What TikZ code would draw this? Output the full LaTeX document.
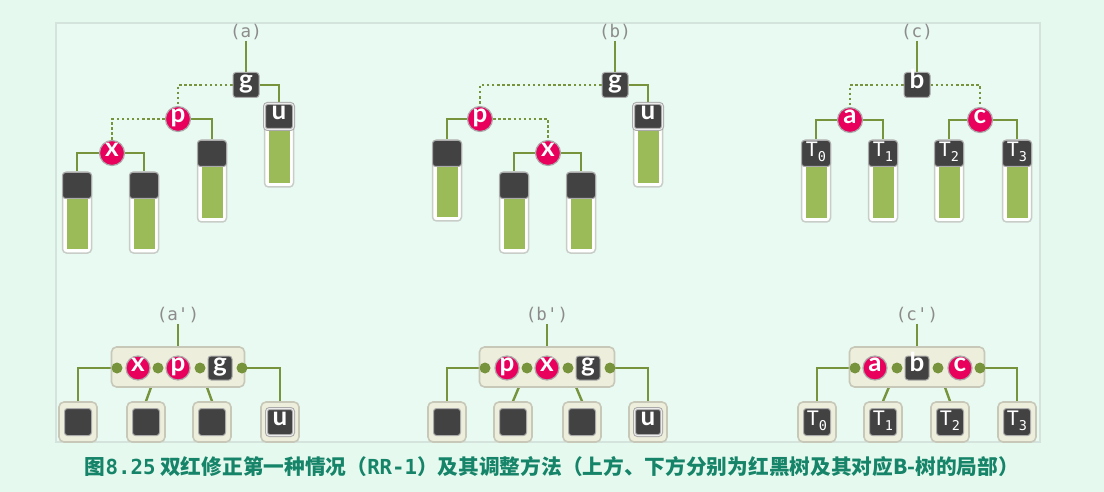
\documentclass[tikz,border=0pt]{standalone}
\usepackage{fontspec}
\newfontfamily\keyfont{Lato}
\newfontfamily\monofont{DejaVu Sans Mono}
\newfontfamily\cjk{Noto Sans CJK SC}
\definecolor{bgcol}{RGB}{230,249,239}
\definecolor{panelcol}{RGB}{232,250,241}
\definecolor{panelline}{RGB}{212,228,220}
\definecolor{kred}{RGB}{232,0,92}
\definecolor{kdark}{RGB}{66,66,66}
\definecolor{kring}{RGB}{170,170,170}
\definecolor{egreen}{RGB}{119,147,60}
\definecolor{lgreen}{RGB}{155,187,89}
\definecolor{framegray}{RGB}{200,205,200}
\definecolor{beige}{RGB}{238,238,220}
\definecolor{beigeborder}{RGB}{200,200,185}
\definecolor{lblgray}{RGB}{140,140,140}
\definecolor{capgreen}{RGB}{22,132,104}
\pgfdeclarelayer{bg}\pgfdeclarelayer{edges}\pgfsetlayers{bg,edges,main}
\tikzset{
  keyfnt/.style={text=white, font=\keyfont\bfseries\fontsize{26}{26}\selectfont, text height=12pt, text depth=5pt},
  keyred/.style={circle, fill=kred, draw=kring, line width=1.2pt, minimum size=25pt, inner sep=0pt, keyfnt},
  keyblk/.style={rectangle, rounded corners=3pt, fill=kdark, draw=kring, line width=1pt, minimum width=26pt, minimum height=25pt, inner sep=0pt, keyfnt},
  ukey/.style={draw=kring, double=white!85!gray, double distance=1pt, line width=1pt},
  lbl/.style={text=lblgray, font=\monofont\fontsize{17.5}{18}\selectfont, inner sep=1pt},
  edge/.style={draw=egreen, line width=2.4pt},
  dotedge/.style={draw=egreen, line width=2.5pt, dash pattern=on 2.5pt off 2.6pt},
  treeframe/.style={fill=white, draw=framegray, line width=1.5pt, rounded corners=4pt},
  supernode/.style={rectangle, rounded corners=5pt, fill=beige, draw=beigeborder, line width=1.6pt, minimum height=40pt},
  leafbox/.style={rectangle, rounded corners=5pt, fill=beige, draw=beigeborder, line width=1.6pt, minimum width=38pt, minimum height=40pt},
  gdot/.style={circle, fill=egreen, minimum size=11pt, inner sep=0pt},
}
\newcommand\Tsub[1]{{\monofont\mdseries\fontsize{20}{20}\selectfont T\raisebox{-5pt}{\fontsize{13.5}{13.5}\selectfont #1}}}
% name, x, top, bottom, label, extra style
\newcommand\stree[6]{%
  \path[treeframe] (#2-14.5,#3) rectangle (#2+14.5,#4);
  \fill[lgreen] (#2-10.5,#3+22) rectangle (#2+10.5,#4-4);
  \node[keyblk, minimum width=29pt, minimum height=26pt, anchor=north, #6] (#1) at (#2,#3) {#5};}
% name, x, label, extra style
\newcommand\leaf[4]{%
  \node[leafbox] (#1) at (#2,422) {};
  \node[keyblk, minimum width=27pt, minimum height=27pt, #4] (#1k) at (#2,422) {#3};}
\begin{document}
\begin{tikzpicture}[x=1pt,y=-1pt]
\begin{pgfonlayer}{bg}
  \fill[bgcol] (0,0) rectangle (1104,492);
  \filldraw[fill=panelcol, draw=panelline, line width=1.2pt] (56,23) rectangle (1040,442);
\end{pgfonlayer}
\useasboundingbox (0,0) rectangle (1104,492);

% ---------- (a) ----------
\node[lbl] (la) at (246,32) {(a)};
\node[keyblk] (ga) at (246,85) {g};
\node[keyred] (pa) at (178,119) {p};
\node[keyred] (xa) at (112,153) {x};
\stree{ua}{279}{103}{187}{u}{ukey}
\stree{pra}{212}{140}{222}{}{}
\stree{xla}{77}{172}{253}{}{}
\stree{xra}{144}{172}{253}{}{}

% ---------- (b) ----------
\node[lbl] (lb) at (615,32) {(b)};
\node[keyblk] (gb) at (615,85) {g};
\node[keyred] (pb) at (480,119) {p};
\node[keyred] (xb) at (548,153) {x};
\stree{ub}{648}{103}{187}{u}{ukey}
\stree{plb}{447}{140}{221}{}{}
\stree{xlb}{514}{172}{253}{}{}
\stree{xrb}{581}{172}{253}{}{}

% ---------- (c) ----------
\node[lbl] (lc) at (917,32) {(c)};
\node[keyblk] (bc) at (917,85) {b};
\node[keyred] (ac) at (850,120) {a};
\node[keyred] (cc) at (980,120) {c};
\stree{t0}{816}{140}{222}{\Tsub{0}}{}
\stree{t1}{883}{140}{222}{\Tsub{1}}{}
\stree{t2}{949}{140}{222}{\Tsub{2}}{}
\stree{t3}{1017}{140}{222}{\Tsub{3}}{}

% ---------- (a') ----------
\node[lbl] (lap) at (178,315) {(a')};
\node[supernode, minimum width=133pt] (sa) at (178,367) {};
\node[gdot] (da1) at (117,368) {};
\node[gdot] (da2) at (158,368) {};
\node[gdot] (da3) at (200,368) {};
\node[gdot] (da4) at (242,368) {};
\node[keyred, minimum size=24pt] (xap) at (138,368) {x};
\node[keyred, minimum size=24pt] (pap) at (178,368) {p};
\node[keyblk, minimum width=24pt, minimum height=24pt] (gap) at (220,368) {g};
\leaf{ca1}{78}{}{}
\leaf{ca2}{146}{}{}
\leaf{ca3}{212}{}{}
\leaf{ca4}{280}{u}{ukey}

% ---------- (b') ----------
\node[lbl] (lbp) at (547,315) {(b')};
\node[supernode, minimum width=135pt] (sb) at (547,367) {};
\node[gdot] (db1) at (485,368) {};
\node[gdot] (db2) at (527,368) {};
\node[gdot] (db3) at (568,368) {};
\node[gdot] (db4) at (610,368) {};
\node[keyred, minimum size=24pt] (pbp) at (507,368) {p};
\node[keyred, minimum size=24pt] (xbp) at (547,368) {x};
\node[keyblk, minimum width=24pt, minimum height=24pt] (gbp) at (588,368) {g};
\leaf{cb1}{447}{}{}
\leaf{cb2}{513}{}{}
\leaf{cb3}{582}{}{}
\leaf{cb4}{648}{u}{ukey}

% ---------- (c') ----------
\node[lbl] (lcp) at (917,315) {(c')};
\node[supernode, minimum width=135pt] (sc) at (917,367) {};
\node[gdot] (dc1) at (855,368) {};
\node[gdot] (dc2) at (897,368) {};
\node[gdot] (dc3) at (938,368) {};
\node[gdot] (dc4) at (980,368) {};
\node[keyred, minimum size=24pt] (acp) at (875,368) {a};
\node[keyblk, minimum width=24pt, minimum height=24pt] (bcp) at (917,368) {b};
\node[keyred, minimum size=24pt] (ccp) at (960,368) {c};
\leaf{cc1}{817}{\Tsub{0}}{}
\leaf{cc2}{883}{\Tsub{1}}{}
\leaf{cc3}{950}{\Tsub{2}}{}
\leaf{cc4}{1017}{\Tsub{3}}{}

% ---------- caption ----------
\node[text=capgreen, font=\cjk\bfseries\fontsize{20.7}{24}\selectfont, inner sep=0pt] (cap) at (552,467)
  {图{\monofont\bfseries 8.25} 双红修正第一种情况（{\monofont\bfseries RR-1}）及其调整方法（上方、下方分别为红黑树及其对应B-树的局部）};

% ---------- edges ----------
\begin{pgfonlayer}{edges}
  % (a)
  \draw[edge] (la.south) -- (ga.north);
  \draw[dotedge] (ga.west) -| (pa.north);
  \draw[edge] (ga.east) -| (ua.north);
  \draw[dotedge] (pa.west) -| (xa.north);
  \draw[edge] (pa.east) -| (pra.north);
  \draw[edge] (xa.west) -| (xla.north);
  \draw[edge] (xa.east) -| (xra.north);
  % (b)
  \draw[edge] (lb.south) -- (gb.north);
  \draw[dotedge] (gb.west) -| (pb.north);
  \draw[edge] (gb.east) -| (ub.north);
  \draw[edge] (pb.west) -| (plb.north);
  \draw[dotedge] (pb.east) -| (xb.north);
  \draw[edge] (xb.west) -| (xlb.north);
  \draw[edge] (xb.east) -| (xrb.north);
  % (c)
  \draw[edge] (lc.south) -- (bc.north);
  \draw[dotedge] (bc.west) -| (ac.north);
  \draw[dotedge] (bc.east) -| (cc.north);
  \draw[edge] (ac.west) -| (t0.north);
  \draw[edge] (ac.east) -| (t1.north);
  \draw[edge] (cc.west) -| (t2.north);
  \draw[edge] (cc.east) -| (t3.north);
  % (a')
  \draw[edge] (lap.south) -- (sa.north);
  \draw[edge] (da1.center) -| (ca1.north);
  \draw[edge] (da2.center) -- (ca2.north);
  \draw[edge] (da3.center) -- (ca3.north);
  \draw[edge] (da4.center) -| (ca4.north);
  % (b')
  \draw[edge] (lbp.south) -- (sb.north);
  \draw[edge] (db1.center) -| (cb1.north);
  \draw[edge] (db2.center) -- (cb2.north);
  \draw[edge] (db3.center) -- (cb3.north);
  \draw[edge] (db4.center) -| (cb4.north);
  % (c')
  \draw[edge] (lcp.south) -- (sc.north);
  \draw[edge] (dc1.center) -| (cc1.north);
  \draw[edge] (dc2.center) -- (cc2.north);
  \draw[edge] (dc3.center) -- (cc3.north);
  \draw[edge] (dc4.center) -| (cc4.north);
\end{pgfonlayer}
\end{tikzpicture}
\end{document}
